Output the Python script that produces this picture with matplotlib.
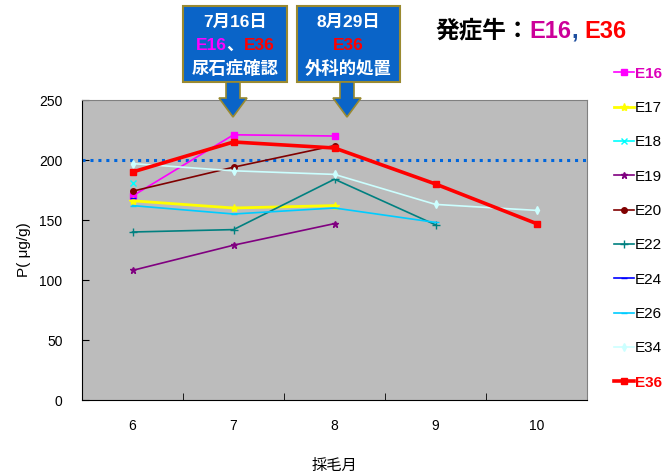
import numpy as np
import matplotlib
matplotlib.use("Agg")
import matplotlib.pyplot as plt
from matplotlib.patches import Rectangle, Polygon

plt.rcParams['font.family'] = ['Liberation Sans', 'Noto Sans CJK JP', 'DejaVu Sans']

months = [6, 7, 8, 9, 10]
nan = np.nan

# P (ug/g) per cow, by sampling month
e16 = [170, 221, 220, nan, nan]
e17 = [166, 160, 162, nan, nan]
e18 = [181, nan, nan, nan, nan]
e19 = [108, 129, 147, nan, nan]
e20 = [174, 194, 212, nan, nan]
e22 = [140, 142, 184, 146, nan]
e24 = [168, nan, nan, nan, nan]
e26 = [162, 155, 160, 148, nan]
e34 = [197, 191, 188, 163, 158]
e36 = [190, 215, 210, 180, 147]
threshold = 200

series = [
    ('E16', e16, '#ff00ff', 's', 1.2, 4),
    ('E17', e17, '#ffff00', '*', 2.0, 6),
    ('E18', e18, '#00ffff', 'x', 1.2, 5),
    ('E19', e19, '#800080', '*', 1.2, 5),
    ('E20', e20, '#800000', 'o', 1.2, 4),
    ('E22', e22, '#008080', '+', 1.2, 6),
    ('E24', e24, '#0000ff', '_', 1.2, 5),
    ('E26', e26, '#00ccff', '_', 1.2, 5),
    ('E34', e34, '#ccffff', 'd', 1.2, 4),
    ('E36', e36, '#ff0000', 's', 2.6, 5),
]

fig = plt.figure(figsize=(6.67, 4.76), dpi=100)
ax = fig.add_axes([82/667, 76/476, 505/667, 300/476])
ax.set_facecolor('#bcbcbc')

x = np.arange(len(months))
handles = []
for name, vals, col, mk, lw, ms in series:
    y = np.array(vals, dtype=float)
    h, = ax.plot(x, y, color=col, lw=lw, marker=mk, ms=ms, mec=col, mfc=col,
                 label=name, zorder=3)
    handles.append(h)

ax.axhline(threshold, color='#0066dd', lw=2.2, ls=(0, (1, 1.6)), zorder=2)

ax.set_xlim(-0.5, len(months) - 0.5)
ax.set_ylim(0, 250)
ax.set_yticks(range(0, 251, 50))
ax.set_xticks(x)
ax.set_xticklabels([str(m) for m in months])
ax.set_xticks(np.arange(0.5, len(months) - 1, 1), minor=True)
ax.tick_params(axis='x', which='major', length=0, pad=14, labelsize=10)
ax.tick_params(axis='x', which='minor', length=5, direction='in')
ax.tick_params(axis='y', length=5, direction='in', labelsize=10, pad=14)
for s in ['top', 'right']:
    ax.spines[s].set_color('#808080')
for s in ['left', 'bottom']:
    ax.spines[s].set_color('#000000')
ax.set_xlabel('採毛月', fontsize=11, labelpad=18)
ax.set_ylabel('P( μg/g)', fontsize=11, labelpad=6)

leg = fig.legend(handles=handles, loc='upper left', bbox_to_anchor=(600/667, 1 - 53/476),
                 frameon=False, fontsize=11, handlelength=1.3, handletextpad=0.1,
                 labelspacing=1.33)
for t in leg.get_texts():
    if t.get_text() == 'E16':
        t.set_color('#dd00bb'); t.set_fontweight('bold')
    if t.get_text() == 'E36':
        t.set_color('#ff0000'); t.set_fontweight('bold')


def px(xp, yp):
    return (xp / 667, 1 - yp / 476)


def pieces(xc, yp, parts, size=12.5):
    # draw a line of coloured chunks centred on xc (pixels)
    fig.canvas.draw()
    r = fig.canvas.get_renderer()
    items = []
    total = 0
    for txt, col in parts:
        t = fig.text(0, 0, txt, color=col, fontsize=size, fontweight='bold',
                     va='center', ha='left', zorder=7)
        w = t.get_window_extent(renderer=r).width
        items.append((t, w))
        total += w
    cur = xc - total / 2
    for t, w in items:
        t.set_position(px(cur, yp))
        cur += w


def callout(x0, x1, tip_x, lines):
    box = Rectangle(px(x0, 82), (x1 - x0) / 667, 76 / 476, transform=fig.transFigure,
                    facecolor='#0a64c8', edgecolor='#9a8a30', lw=1.5, zorder=5)
    fig.patches.append(box)
    arrow = [px(tip_x - 7, 82), px(tip_x + 7, 82), px(tip_x + 7, 98), px(tip_x + 14, 98),
             px(tip_x, 117), px(tip_x - 14, 98), px(tip_x - 7, 98)]
    fig.patches.append(Polygon(arrow, closed=True, transform=fig.transFigure,
                               facecolor='#0a64c8', edgecolor='#9a8a30', lw=1.2, zorder=5))
    xc = (x0 + x1) / 2
    for yp, parts in zip([22, 45, 68], lines):
        pieces(xc, yp, parts)


callout(183, 287, 233, [[('7月16日', 'white')],
                        [('E16', '#ff00ff'), ('、', 'white'), ('E36', '#ff0000')],
                        [('尿石症確認', 'white')]])
callout(297, 400, 347, [[('8月29日', 'white')],
                        [('E36', '#ff0000')],
                        [('外科的処置', 'white')]])

# heading with the affected cows
fig.canvas.draw()
r = fig.canvas.get_renderer()
cur = 435
for txt, col in [('発症牛：', 'black'), ('E16', '#cc0099'), (', ', '#1f4f9f'), ('E36', '#ff0000')]:
    t = fig.text(*px(cur, 31), txt, color=col, fontsize=17, fontweight='bold',
                 va='center', ha='left')
    cur += t.get_window_extent(renderer=r).width

fig.savefig('out.png', dpi=100)
